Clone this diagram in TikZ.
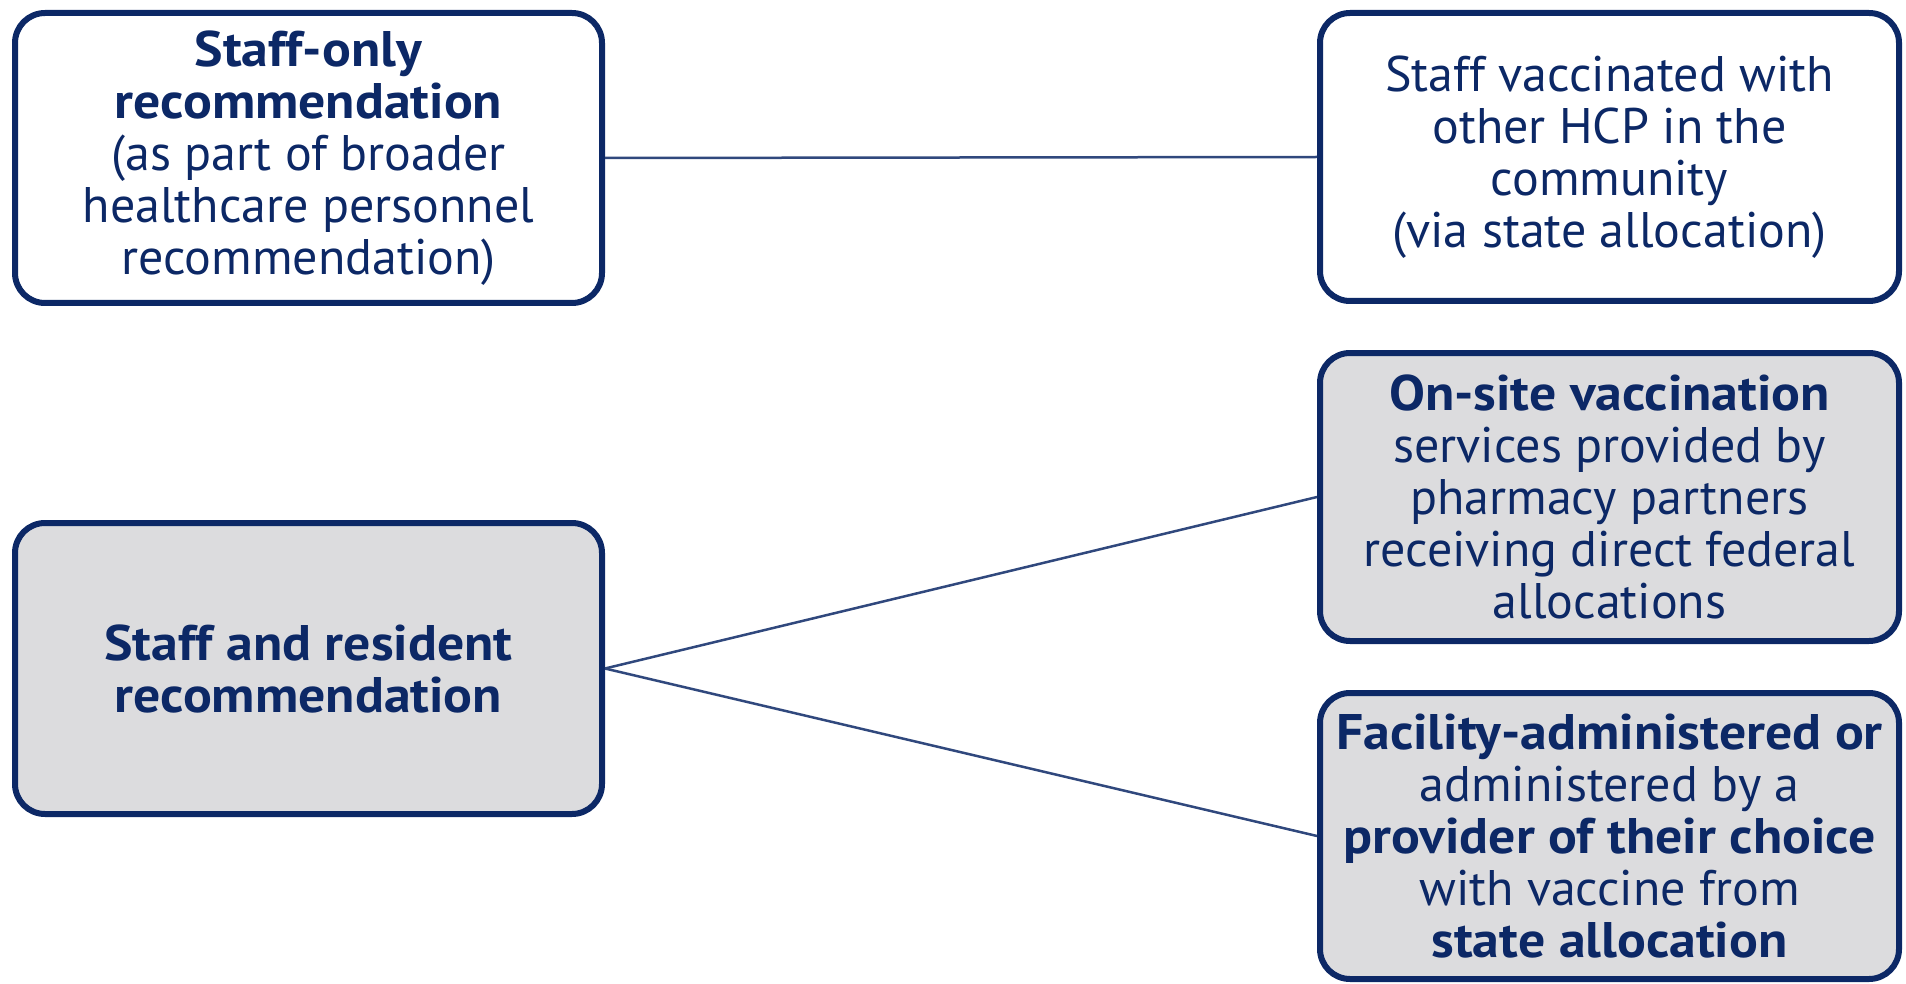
\documentclass[tikz,border=0pt]{standalone}
\usepackage{fontspec}
\setmainfont{PT Sans}[BoldFeatures={FakeStretch=1.075}]
\definecolor{navy}{HTML}{0C2866}
\definecolor{boxgrey}{HTML}{DCDCDE}
\begin{document}
\begin{tikzpicture}[x=1pt,y=1pt,
  box/.style={draw=navy, line width=6pt, rounded corners=30pt, rectangle,
    align=center, text=navy, inner sep=0pt,
    font=\fontsize{50}{52}\selectfont},
  greybox/.style={box, fill=boxgrey},
  whitebox/.style={box, fill=white},
  link/.style={draw=navy!85!white, line width=2.5pt}]
\useasboundingbox (0,0) rectangle (1906,-984);
\node[whitebox, minimum width=587pt, minimum height=290pt] (A) at (308.5,-158)
  {\textbf{Staff-only}\\\textbf{recommendation}\\(as part of broader\\healthcare personnel\\recommendation)};
\node[whitebox, minimum width=579pt, minimum height=288pt] (B) at (1609.5,-157)
  {Staff vaccinated with\\other HCP in the\\community\\(via state allocation)};
\node[greybox, minimum width=579pt, minimum height=288pt] (C) at (1609.5,-497)
  {\textbf{On-site vaccination}\\services provided by\\pharmacy partners\\receiving direct federal\\allocations};
\node[greybox, minimum width=587pt, minimum height=291pt] (D) at (308.5,-668.5)
  {\textbf{Staff and resident}\\\textbf{recommendation}};
\node[greybox, minimum width=579pt, minimum height=286pt] (E) at (1609.5,-836)
  {\textbf{Facility-administered or}\\administered by a\\\textbf{provider of their choice}\\with vaccine from\\\textbf{state allocation}};
\draw[link] (A.east) -- (B.west);
\draw[link] (D.east) -- (C.west);
\draw[link] (D.east) -- (E.west);
\end{tikzpicture}
\end{document}
